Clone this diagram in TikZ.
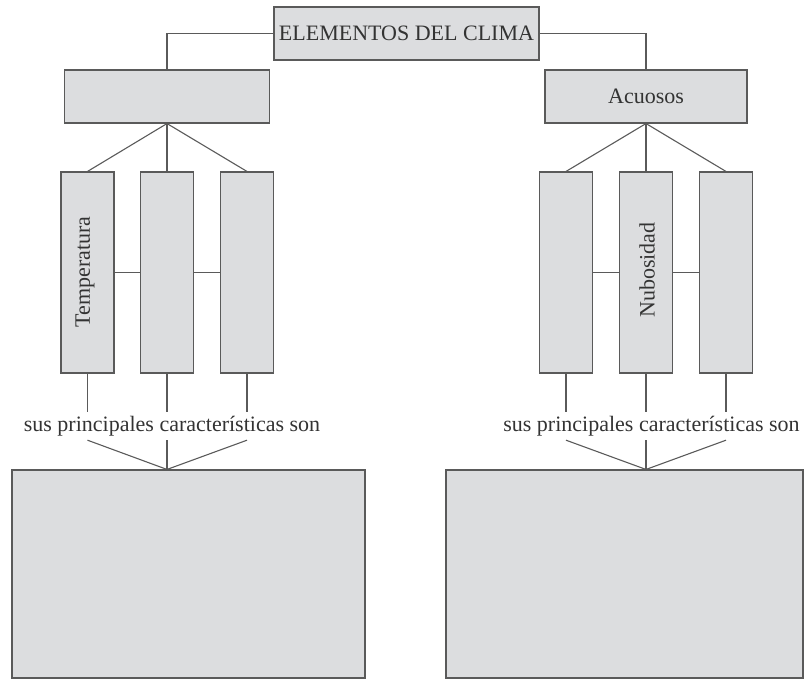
\documentclass[tikz,border=0pt]{standalone}
\usepackage{fontspec}
\setmainfont{Liberation Serif}
\usepackage{tikz}
\usetikzlibrary{positioning,calc}
\definecolor{boxfill}{HTML}{DCDDDF}
\definecolor{boxline}{HTML}{5A5A5A}
\definecolor{inktext}{HTML}{333333}
\tikzset{
  % cajas
  cbox/.style={rectangle,draw=boxline,fill=boxfill,line width=1.1pt,inner sep=0pt,
               text=inktext,font=\fontsize{22}{26}\selectfont},
  hbox/.style={cbox,minimum height=53pt},
  vbox/.style={cbox,minimum width=53pt,minimum height=201pt},
  vtext/.style={rotate=90,text=inktext,font=\fontsize{22}{26}\selectfont,inner sep=0pt},
  lab/.style={text=inktext,font=\fontsize{22}{26}\selectfont,inner xsep=0pt,inner ysep=4pt},
  % enlaces
  ln/.style={draw=boxline,line width=1.1pt},
}
\begin{document}
\begin{tikzpicture}[x=1pt,y=-1pt]
\useasboundingbox (0,0) rectangle (804,679);
  \node[hbox,minimum width=265pt] (clima) at (406.5,33.5) {ELEMENTOS DEL CLIMA};
  \node[hbox,minimum width=205pt] (izq) at (167,96.5) {};
  \node[hbox,minimum width=202pt] (acu) at (646,96.5) {Acuosos};
  % columnas izquierda
  \node[vbox] (i1) at (87.5,272.5) {};
  \node[vbox] (i2) at (167,272.5) {};
  \node[vbox] (i3) at (247,272.5) {};
  \node[vtext] (temp) at (85,272) {Temperatura};
  % columnas derecha
  \node[vbox] (d1) at (566,272.5) {};
  \node[vbox] (d2) at (646,272.5) {};
  \node[vbox] (d3) at (726,272.5) {};
  \node[vtext] (nub) at (647,270) {Nubosidad};
  % textos
  \node[lab] (labi) at (172,426) {sus principales características son};
  \node[lab] (labd) at (651.5,426) {sus principales características son};
  % cajas grandes
  \node[cbox,minimum width=353pt,minimum height=208pt] (bi) at (188.5,574) {};
  \node[cbox,minimum width=357pt,minimum height=208pt] (bd) at (624.5,574) {};
  % enlaces
  \draw[ln] (clima.west) -| (izq.north);
  \draw[ln] (clima.east) -| (acu.north);
  \foreach \c in {i1,i2,i3} {
    \draw[ln] (izq.south) -- (\c.north);
    \draw[ln] (\c.south) -- (\c.south |- labi.north);
    \draw[ln] (\c.south |- labi.south) -- (i2.south |- bi.north);
  }
  \foreach \c in {d1,d2,d3} {
    \draw[ln] (acu.south) -- (\c.north);
    \draw[ln] (\c.south) -- (\c.south |- labd.north);
    \draw[ln] (\c.south |- labd.south) -- (d2.south |- bd.north);
  }
  \draw[ln] (i1.east) -- (i2.west);
  \draw[ln] (i2.east) -- (i3.west);
  \draw[ln] (d1.east) -- (d2.west);
  \draw[ln] (d2.east) -- (d3.west);
\end{tikzpicture}
\end{document}
